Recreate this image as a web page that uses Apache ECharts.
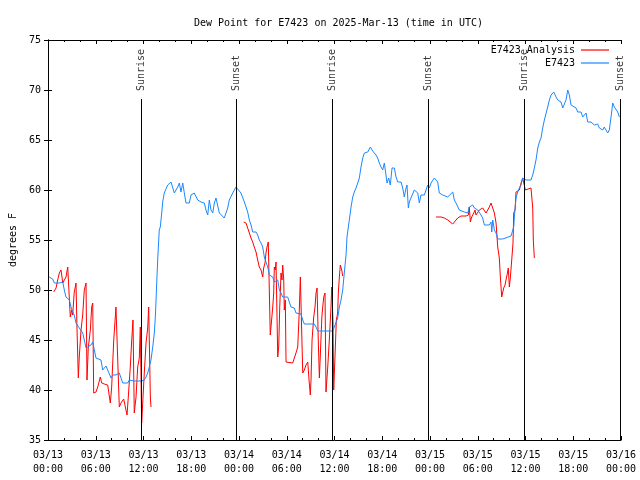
<!DOCTYPE html>
<html><head><meta charset="utf-8">
<script src="https://cdn.jsdelivr.net/npm/echarts@6/dist/echarts.min.js"></script>
<style>html,body{margin:0;padding:0;background:#fff}#c{width:640px;height:480px}</style>
</head><body><div id="c"></div>
<script>
const titleText = 'Dew Point for E7423 on 2025-Mar-13 (time in UTC)';
const yAxisName = 'degrees F';
const xTickLabels = ['03/13\n00:00','03/13\n06:00','03/13\n12:00','03/13\n18:00','03/14\n00:00','03/14\n06:00','03/14\n12:00','03/14\n18:00','03/15\n00:00','03/15\n06:00','03/15\n12:00','03/15\n18:00','03/16\n00:00'];
const yTicks = [35,40,45,50,55,60,65,70,75];

const sunHours = [11.69, 23.62, 35.69, 47.75, 59.81, 71.88];
const sunLabels = ['Sunrise','Sunset','Sunrise','Sunset','Sunrise','Sunset'];
const sunLineTop = 69.1;

const obsName = 'E7423';
const obsHours = [0.16,0.59,0.79,1.42,1.85,2.05,2.26,2.68,2.89,3.10,3.30,3.52,3.73,3.93,4.15,4.36,4.56,4.78,4.99,5.40,5.62,5.82,6.03,6.66,6.87,7.29,7.50,7.92,8.13,8.54,8.96,9.39,10.02,10.22,10.84,11.69,12.10,12.32,12.53,12.73,12.94,13.16,13.36,13.50,13.65,13.80,13.98,14.11,14.29,14.41,14.61,15.04,15.46,15.87,16.30,16.50,16.71,16.93,17.13,17.34,17.76,17.97,18.38,18.81,19.23,19.64,19.85,20.07,20.27,20.48,20.70,20.90,21.11,21.32,21.53,21.74,22.15,22.37,22.58,22.78,23.21,23.42,23.62,23.84,24.25,24.67,25.09,25.30,25.51,25.72,26.14,26.35,26.55,26.77,26.98,27.18,27.39,27.61,27.81,28.24,28.44,28.87,29.07,29.28,29.49,30.12,30.32,30.54,30.95,31.16,31.79,32.01,32.21,33.46,33.68,33.89,35.78,35.98,36.19,36.40,36.61,36.82,37.03,37.23,37.45,37.57,37.86,38.08,38.29,38.49,38.70,38.92,39.12,39.33,39.55,39.75,40.18,40.50,40.80,41.22,41.43,41.63,41.85,42.06,42.26,42.47,42.60,42.81,43.01,43.23,43.52,43.73,43.95,44.36,44.57,44.77,44.99,45.11,45.28,45.40,45.61,46.03,46.46,46.66,46.87,47.29,47.50,47.71,47.91,48.13,48.54,48.97,49.17,49.60,50.23,50.43,50.86,51.06,51.27,51.68,51.90,52.31,52.74,52.94,53.37,53.57,54.00,54.41,54.62,54.83,55.46,55.67,55.76,55.88,56.09,56.30,56.51,57.14,57.35,58.18,58.40,58.52,58.60,58.81,59.02,59.23,59.44,59.65,60.06,60.69,60.91,61.11,61.32,61.54,61.74,61.95,62.16,62.37,62.58,62.79,63.00,63.21,63.55,63.84,64.05,64.46,64.68,64.88,65.09,65.31,65.51,65.72,66.35,66.56,66.98,67.19,67.61,67.82,68.23,68.65,68.86,69.07,69.28,69.70,69.90,70.12,70.33,70.53,70.75,70.96,71.16,71.59,71.80];
const obsValues = [51.3,51.1,50.7,50.7,50.8,50.0,49.3,49.0,48.3,47.8,47.5,46.7,46.8,46.2,46.0,45.7,45.0,44.2,44.3,44.5,44.8,44.0,43.2,43.0,42.0,42.4,42.0,41.2,41.5,41.5,41.7,40.7,40.7,41.0,40.9,40.9,41.0,41.3,41.7,42.3,43.0,44.3,45.7,47.5,50.5,53.3,56.0,56.3,57.7,58.8,59.7,60.5,60.8,59.7,60.3,60.7,59.8,60.7,59.7,58.7,58.7,59.5,59.7,59.0,58.8,58.7,58.0,57.5,59.0,58.0,57.7,58.7,59.2,59.0,57.7,57.5,57.2,57.7,58.2,59.0,59.7,59.5,60.3,60.5,59.7,58.8,57.8,57.0,56.5,55.8,55.8,55.5,55.0,54.7,54.3,53.3,52.8,52.3,51.5,51.3,50.8,51.0,50.0,49.7,49.3,49.3,48.8,48.3,48.2,47.7,47.6,47.0,46.6,46.6,46.3,45.9,45.9,46.3,46.3,47.2,48.3,49.0,50.0,51.7,53.5,55.3,57.0,58.3,59.3,59.8,60.2,60.7,61.2,62.3,63.2,63.7,63.8,64.3,63.9,63.5,63.2,62.7,62.3,62.0,62.7,61.5,60.7,61.2,60.5,62.2,62.2,61.3,60.8,60.8,60.2,59.3,60.2,60.5,58.2,58.8,59.2,60.0,59.7,58.7,59.5,59.5,60.0,60.5,60.2,60.7,61.2,60.8,59.7,59.5,59.3,59.3,59.8,59.0,58.7,58.0,57.8,57.8,57.7,58.3,58.5,58.2,58.0,57.5,57.2,56.5,56.5,56.8,55.8,57.0,56.0,55.7,55.1,55.1,55.3,55.4,55.4,56.3,57.3,59.2,59.8,60.2,60.5,61.2,61.0,61.0,61.5,62.2,63.0,64.2,64.8,65.2,66.2,67.0,67.2,68.3,69.0,69.5,69.8,69.3,69.0,68.8,68.2,68.3,69.0,70.0,69.5,68.5,68.2,67.8,67.8,67.3,67.7,66.8,66.8,66.5,66.3,66.6,66.2,66.0,66.3,66.5,65.7,66.0,67.3,68.7,68.3,67.8,67.3];

const anaName = 'E7423 Analysis';
const anaHours = [0.72,1.01,1.22,1.42,1.63,1.76,1.85,2.26,2.48,2.68,2.80,2.98,3.10,3.30,3.43,3.52,3.64,3.81,3.93,4.15,4.36,4.56,4.78,4.90,5.06,5.32,5.49,5.62,5.74,6.03,6.25,6.57,6.75,7.07,7.50,7.70,7.83,8.00,8.26,8.54,8.76,8.96,9.17,9.51,9.71,9.93,10.09,10.34,10.52,10.68,10.84,11.06,11.27,11.47,11.60,11.77,12.10,12.32,12.53,12.65,12.86,12.94,
  18.0,
  24.59,24.88,25.09,25.30,25.51,25.72,25.92,26.14,26.35,26.55,26.77,26.98,27.10,27.27,27.39,27.52,27.68,27.81,27.93,28.02,28.24,28.36,28.44,28.56,28.65,28.78,28.87,28.99,29.12,29.28,29.40,29.49,29.62,29.69,29.82,29.91,30.12,30.75,30.95,31.16,31.38,31.58,31.71,31.88,32.01,32.21,32.42,32.64,32.80,32.96,33.05,33.18,33.39,33.55,33.68,33.81,33.97,34.10,34.23,34.41,34.52,34.65,34.81,34.93,35.15,35.35,35.56,35.65,35.81,35.90,36.06,36.23,36.40,36.48,36.61,36.73,36.91,37.03,
  42.0,
  48.76,49.39,49.80,50.23,50.86,51.06,51.48,51.90,52.53,52.82,52.94,53.07,53.24,53.50,53.66,53.78,54.00,54.20,54.62,55.04,55.25,55.46,55.67,55.88,56.09,56.30,56.51,56.71,56.84,57.01,57.26,57.43,57.55,57.68,57.84,57.97,58.09,58.27,58.43,58.52,58.69,58.81,59.23,59.44,59.65,59.85,59.98,60.19,60.69,60.82,60.91,60.98,61.11];
const anaValues = [49.8,50.2,51.0,51.7,52.0,51.3,50.7,51.3,52.3,52.3,47.3,48.0,47.5,49.8,50.3,50.7,46.3,41.2,43.3,46.0,47.5,50.0,50.7,41.0,44.2,46.0,48.3,48.7,39.7,39.8,40.3,41.3,40.7,40.6,40.5,40.3,38.7,40.3,45.0,48.3,48.3,38.3,38.7,39.1,39.2,37.5,39.3,42.3,45.0,47.0,37.7,39.3,42.3,43.2,46.3,36.7,41.7,44.7,46.2,48.3,39.3,38.3,
  null,
  56.8,56.7,56.2,55.7,55.2,54.8,54.3,53.8,53.0,52.3,52.0,51.3,52.2,52.7,53.7,54.3,54.8,54.8,45.5,46.3,48.3,49.7,52.3,52.0,52.8,52.7,43.3,44.3,48.3,51.7,51.0,52.5,51.0,48.0,49.0,42.8,42.7,42.7,42.8,43.7,44.3,48.0,51.3,51.5,41.7,42.0,42.5,42.8,41.0,39.5,41.0,45.0,47.3,48.3,49.7,50.2,44.7,41.2,43.7,47.3,48.3,49.3,49.7,39.8,42.3,45.0,48.3,50.3,46.8,40.0,43.3,47.0,47.7,49.7,51.3,52.5,52.0,51.4,
  null,
  57.3,57.3,57.2,57.0,56.6,56.8,57.2,57.4,57.4,57.5,58.3,56.8,57.3,57.7,58.0,57.5,57.7,58.0,58.2,57.7,58.0,58.3,58.7,58.8,57.7,56.7,54.3,53.2,51.3,49.3,50.2,50.5,51.0,51.5,52.2,50.3,51.2,53.0,54.7,57.7,58.0,59.8,60.0,60.7,61.2,61.0,60.0,59.8,60.2,60.3,58.2,55.0,53.2];

const obsColor = '#1a88ff';
const anaColor = '#ff0000';
const font = 'DejaVu Sans Mono';

const obsData = obsHours.map((h,i)=>[h,obsValues[i]]);
const anaData = anaHours.map((h,i)=>[h,anaValues[i]]);
const sunLines = sunHours.map(h=>[{coord:[h,35]},{coord:[h,sunLineTop]}]);
const sunText = sunHours.map((h,i)=>({value:[h,sunLineTop+0.8], name:sunLabels[i]}));

const chart = echarts.init(document.getElementById('c'), null, {renderer:'canvas'});
chart.setOption({
  animation:false,
  backgroundColor:'#fff',
  title:{text:titleText,left:189,top:13,textStyle:{fontFamily:font,fontSize:10,fontWeight:'normal',color:'#000'}},
  legend:[
    {data:[{name:anaName,icon:'rect'}],right:26,top:40,itemWidth:28,itemHeight:1.2,itemGap:0,
     align:'right',textStyle:{fontFamily:font,fontSize:10,color:'#000',padding:[0,1,0,0]}},
    {data:[{name:obsName,icon:'rect'}],right:26,top:53,itemWidth:28,itemHeight:1.2,itemGap:0,
     align:'right',textStyle:{fontFamily:font,fontSize:10,color:'#000',padding:[0,1,0,0]}}
  ],
  grid:{left:46,right:19,top:40,bottom:40,containLabel:false},
  xAxis:[
    {type:'value',min:0,max:72,interval:6,position:'bottom',
     axisLine:{lineStyle:{color:'#000',width:1}},
     axisTick:{inside:true,length:4,lineStyle:{color:'#000'}},
     minorTick:{show:true,splitNumber:3,length:2,lineStyle:{color:'#000'}},
     splitLine:{show:false},
     axisLabel:{fontFamily:font,fontSize:10,color:'#000',margin:8,lineHeight:14,
       formatter:v=>xTickLabels[Math.round(v/6)]}},
    {type:'value',min:0,max:72,interval:6,position:'top',
     axisLine:{lineStyle:{color:'#000',width:1}},
     axisTick:{inside:true,length:4,lineStyle:{color:'#000'}},
     minorTick:{show:true,splitNumber:3,length:2,lineStyle:{color:'#000'}},
     splitLine:{show:false},axisLabel:{show:false}}
  ],
  yAxis:[
    {type:'value',min:35,max:75,interval:5,position:'left',
     name:yAxisName,nameLocation:'middle',nameGap:30,nameRotate:90,
     nameTextStyle:{fontFamily:font,fontSize:10,color:'#000'},
     axisLine:{show:true,lineStyle:{color:'#000',width:1}},
     axisTick:{show:true,inside:true,length:4,lineStyle:{color:'#000'}},
     splitLine:{show:false},
     axisLabel:{fontFamily:font,fontSize:10,color:'#000',margin:7,
       formatter:v=>yTicks.includes(v)?String(v):''}},
    {type:'value',min:35,max:75,interval:5,position:'right',
     axisLine:{show:true,lineStyle:{color:'#000',width:1}},
     axisTick:{show:true,inside:true,length:4,lineStyle:{color:'#000'}},
     splitLine:{show:false},axisLabel:{show:false}}
  ],
  series:[
    {name:anaName,type:'line',data:anaData,showSymbol:false,connectNulls:false,
     color:anaColor,lineStyle:{color:anaColor,width:1},z:3},
    {name:obsName,type:'line',data:obsData,showSymbol:false,
     color:obsColor,lineStyle:{color:obsColor,width:1},z:4,
     markLine:{silent:true,symbol:['none','none'],animation:false,
       lineStyle:{color:'#000',width:1,type:'solid'},label:{show:false},
       emphasis:{disabled:true},data:sunLines}},
    {name:'sunlabels',type:'scatter',data:sunText,symbolSize:0,silent:true,z:5,
     label:{show:true,position:'inside',rotate:90,align:'left',verticalAlign:'middle',
       fontFamily:font,fontSize:10,color:'#000',formatter:p=>p.name}}
  ]
});
</script></body></html>
